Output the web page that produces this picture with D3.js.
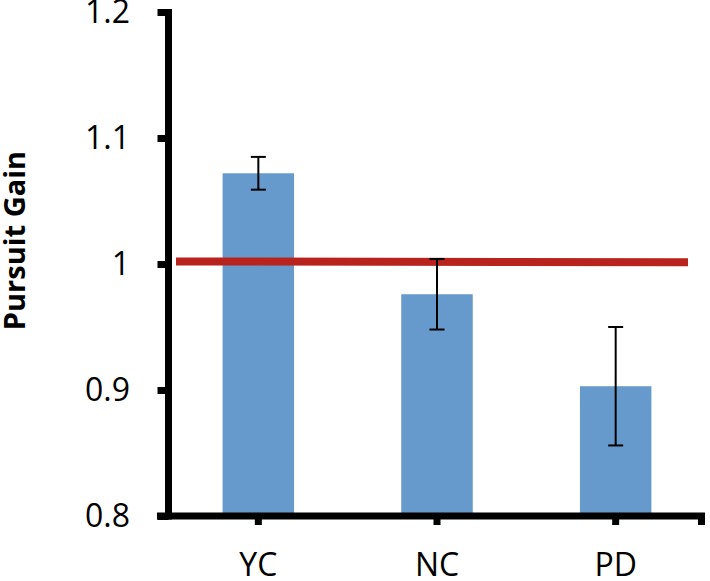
<!DOCTYPE html>
<html>
<head>
<meta charset="utf-8">
<script src="https://cdn.jsdelivr.net/npm/d3@7"></script>
<style>
  html, body { margin: 0; padding: 0; background: #fff; }
  svg { display: block; }
  text { font-family: "Open Sans", "Liberation Sans", sans-serif; }
</style>
</head>
<body>
<div id="chart"></div>
<script>
// ---- data ----
const categories = ["YC", "NC", "PD"];
const gainValues = [1.072, 0.976, 0.903];
const gainErrors = [0.013, 0.028, 0.047];
const referenceLine = [1.002, 1.0013];   // red reference line (start, end)
const yTicks = [0.8, 0.9, 1.0, 1.1, 1.2];
const yTickLabels = ["0.8", "0.9", "1", "1.1", "1.2"];
const yTitle = "Pursuit Gain";

// ---- layout ----
const W = 710, H = 581;
const axisX = 168.5, axisBottom = 516, axisTop = 12;
const svg = d3.select("#chart").append("svg").attr("width", W).attr("height", H);

const y = d3.scaleLinear().domain([0.8, 1.2]).range([axisBottom, axisTop]);
const x = d3.scaleBand().domain(categories).range([169, 705])
  .paddingInner(0.6).paddingOuter(0.3);

const data = categories.map((c, i) => ({ c, v: gainValues[i], e: gainErrors[i] }));

// bars
svg.append("g").selectAll("rect").data(data).enter().append("rect")
  .attr("x", d => x(d.c))
  .attr("width", x.bandwidth())
  .attr("y", d => y(d.v))
  .attr("height", d => y(0.8) - y(d.v))
  .attr("fill", "#6699cc");

// red reference line
const xr = x.range();
svg.append("line")
  .attr("x1", xr[0] + 7).attr("x2", xr[1] - 17)
  .attr("y1", y(referenceLine[0])).attr("y2", y(referenceLine[1]))
  .attr("stroke", "#b8231d").attr("stroke-width", 8);

// error bars
const eb = svg.append("g").attr("stroke", "#000").attr("stroke-width", 2);
data.forEach(d => {
  const cx = x(d.c) + x.bandwidth() / 2;
  eb.append("line").attr("x1", cx).attr("x2", cx)
    .attr("y1", y(d.v + d.e)).attr("y2", y(d.v - d.e));
  [d.v + d.e, d.v - d.e].forEach(val => {
    eb.append("line").attr("x1", cx - 7.5).attr("x2", cx + 7.5)
      .attr("y1", y(val)).attr("y2", y(val));
  });
});

// y axis (ticks + labels)
const yAxis = d3.axisLeft(y).tickValues(yTicks)
  .tickFormat((d, i) => yTickLabels[i])
  .tickSize(11).tickSizeOuter(0).tickPadding(27.5);
const gy = svg.append("g").attr("transform", `translate(${axisX},0)`).call(yAxis);
gy.select(".domain").remove();
gy.selectAll(".tick line").attr("stroke", "#000").attr("stroke-width", 7);
gy.selectAll(".tick text").attr("font-size", 32).attr("fill", "#000")
  .attr("font-family", "'Open Sans', sans-serif");

// axis lines
svg.append("line").attr("x1", axisX).attr("x2", axisX)
  .attr("y1", axisTop - 3).attr("y2", axisBottom + 3.5)
  .attr("stroke", "#000").attr("stroke-width", 7);
svg.append("line").attr("x1", 157).attr("x2", 705)
  .attr("y1", axisBottom).attr("y2", axisBottom)
  .attr("stroke", "#000").attr("stroke-width", 7);

// x axis ticks + labels
const xAxis = d3.axisBottom(x).tickSize(9).tickSizeOuter(0).tickPadding(28);
const gx = svg.append("g").attr("transform", `translate(0,${axisBottom})`).call(xAxis);
gx.select(".domain").remove();
gx.selectAll(".tick line").attr("stroke", "#000").attr("stroke-width", 7);
gx.selectAll(".tick text").attr("font-size", 32).attr("fill", "#000")
  .attr("font-family", "'Open Sans', sans-serif");
// end tick at right
svg.append("line").attr("x1", xr[1] - 3.5).attr("x2", xr[1] - 3.5)
  .attr("y1", axisBottom).attr("y2", axisBottom + 9)
  .attr("stroke", "#000").attr("stroke-width", 7);

// y title
svg.append("text")
  .attr("transform", `translate(25,${(148 + 333) / 2}) rotate(-90)`)
  .attr("text-anchor", "middle")
  .attr("font-size", 29).attr("font-weight", "bold").attr("fill", "#000")
  .text(yTitle);
</script>
</body>
</html>
